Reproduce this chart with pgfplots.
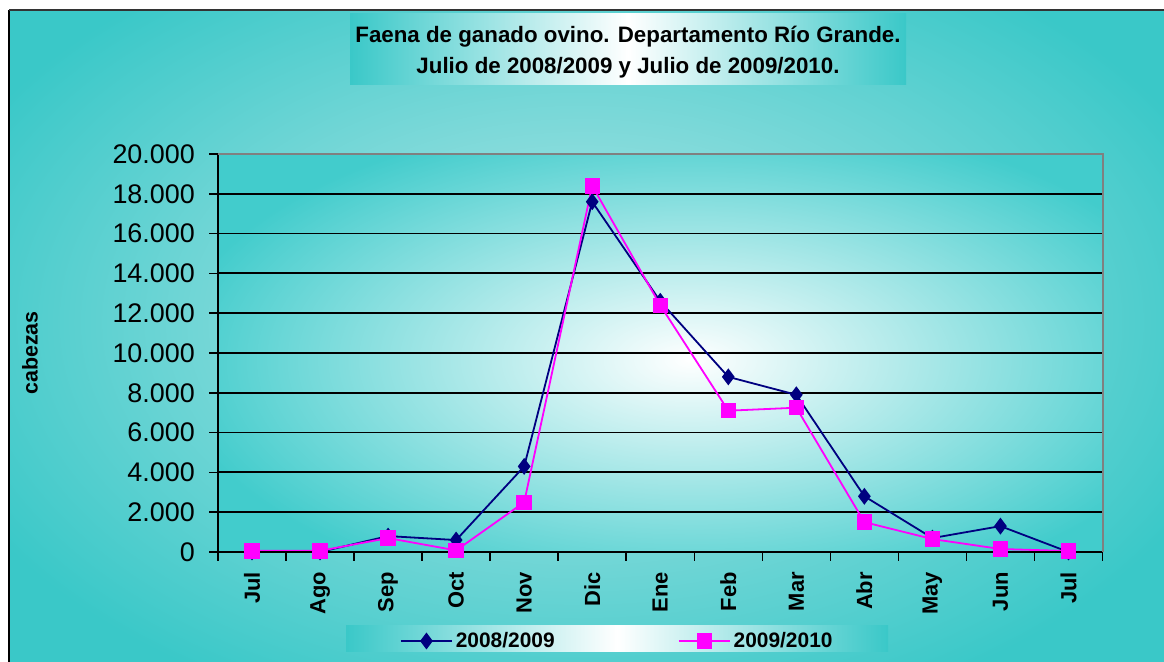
\documentclass[border=0pt]{standalone}
\usepackage{pgfplots}
\pgfplotsset{compat=1.18}
\usepackage{fontspec}
\setmainfont{Liberation Sans}
\definecolor{tealA}{RGB}{58,200,200}
\definecolor{tealB}{RGB}{185,232,232}
\definecolor{tealC}{RGB}{66,204,204}
\definecolor{navyc}{RGB}{0,0,128}
\definecolor{magc}{RGB}{255,0,255}
\begin{document}
\begin{tikzpicture}[x=1bp,y=1bp]
\useasboundingbox (0,0) rectangle (1164,662);
\fill[white] (0,0) rectangle (1164,662);
% outer background
\begin{scope}
\clip (9,0) rectangle (1164,652);
\fill[tealA] (9,0) rectangle (1164,652);
\shade[inner color=tealB, outer color=tealA] (580,340) ellipse (680 and 420);
\end{scope}
\draw[black, line width=2] (9,0) -- (9,652);
\draw[black!80, line width=2] (9,652) -- (1164,652);
% plot area background
\begin{scope}
\clip (218,110) rectangle (1102.5,508);
\fill[tealC] (218,110) rectangle (1102.5,508);
\shade[inner color=white, outer color=tealC] (690,302) ellipse (520 and 250);
\end{scope}
% title box
\shade[left color=tealA, right color=tealA, middle color=white] (350,577) rectangle (906,648);
\node[anchor=base, font=\fontsize{22.4}{26}\selectfont\bfseries] at (628,619.4) {Faena de ganado ovino. Departamento Río Grande.};
\node[anchor=base, font=\fontsize{22.4}{26}\selectfont\bfseries] at (628,588.4) {Julio de 2008/2009 y Julio de 2009/2010.};
% legend box
\shade[left color=tealA, right color=tealA, middle color=white] (346,10) rectangle (888,36);
\begin{axis}[
  at={(218bp,110bp)}, anchor=south west,
  scale only axis, width=884.5bp, height=398bp,
  xmin=-0.5, xmax=12.5, ymin=0, ymax=20000,
  scaled y ticks=false,
  axis line style={draw=none},
  clip=false,
  xtick={0,...,12},
  xticklabels={Jul,Ago,Sep,Oct,Nov,Dic,Ene,Feb,Mar,Abr,May,Jun,Jul},
  minor xtick={-0.5,0.5,...,12.5},
  major x tick style={draw=none},
  minor x tick style={black, line width=1.5bp},
  ytick={0,2000,4000,6000,8000,10000,12000,14000,16000,18000,20000},
  yticklabels={0,2.000,4.000,6.000,8.000,10.000,12.000,14.000,16.000,18.000,20.000},
  tick align=outside,
  major tick length=9bp, minor tick length=9bp,
  ytick style={black, line width=1.5bp},
  xtick pos=bottom, ytick pos=left,
  ymajorgrids,
  major grid style={black, line width=1.8bp},
  yticklabel style={font=\fontsize{27}{30}\selectfont, anchor=east, inner sep=0pt, xshift=-14bp},
  xticklabel style={font=\fontsize{22}{26}\selectfont\bfseries, rotate=90, anchor=east, inner sep=0pt, xshift=-11bp},
  ylabel={cabezas},
  every axis y label/.style={at={(axis description cs:-0.2126,0.5)}, rotate=90, anchor=center, font=\fontsize{21.5}{24}\selectfont\bfseries},
  legend columns=2,
  legend style={at={(axis description cs:0.452,-0.2236)}, anchor=center, draw=none, fill=none, inner sep=0pt,
    font=\fontsize{21}{24}\selectfont\bfseries, nodes={inner sep=3bp}},
  legend image code/.code={\draw[mark repeat=2, mark phase=2, #1] plot coordinates {(0bp,0bp) (25.5bp,0bp) (51bp,0bp)};},
]
\addplot[navyc, line width=1.8bp, mark=diamond*, mark size=7bp, mark options={fill=navyc, draw=navyc, solid}]
  coordinates {(0,0) (1,0) (2,800) (3,600) (4,4300) (5,17600) (6,12600) (7,8800) (8,7900) (9,2800) (10,700) (11,1300) (12,0)};
\addlegendentry{\makebox[219bp][l]{2008/2009}}
\addplot[magc, line width=1.8bp, mark=square*, mark size=6.8bp, mark options={fill=magc, draw=magc, solid}]
  coordinates {(0,60) (1,60) (2,700) (3,80) (4,2500) (5,18400) (6,12400) (7,7100) (8,7250) (9,1500) (10,650) (11,150) (12,50)};
\addlegendentry{2009/2010}
\draw[black, line width=1.5bp] (rel axis cs:0,1) -- (rel axis cs:0,0) -- (rel axis cs:1,0);
\draw[gray, line width=2bp] (rel axis cs:0,1) -- (rel axis cs:1,1) -- (rel axis cs:1,0);
\end{axis}
\end{tikzpicture}
\end{document}
